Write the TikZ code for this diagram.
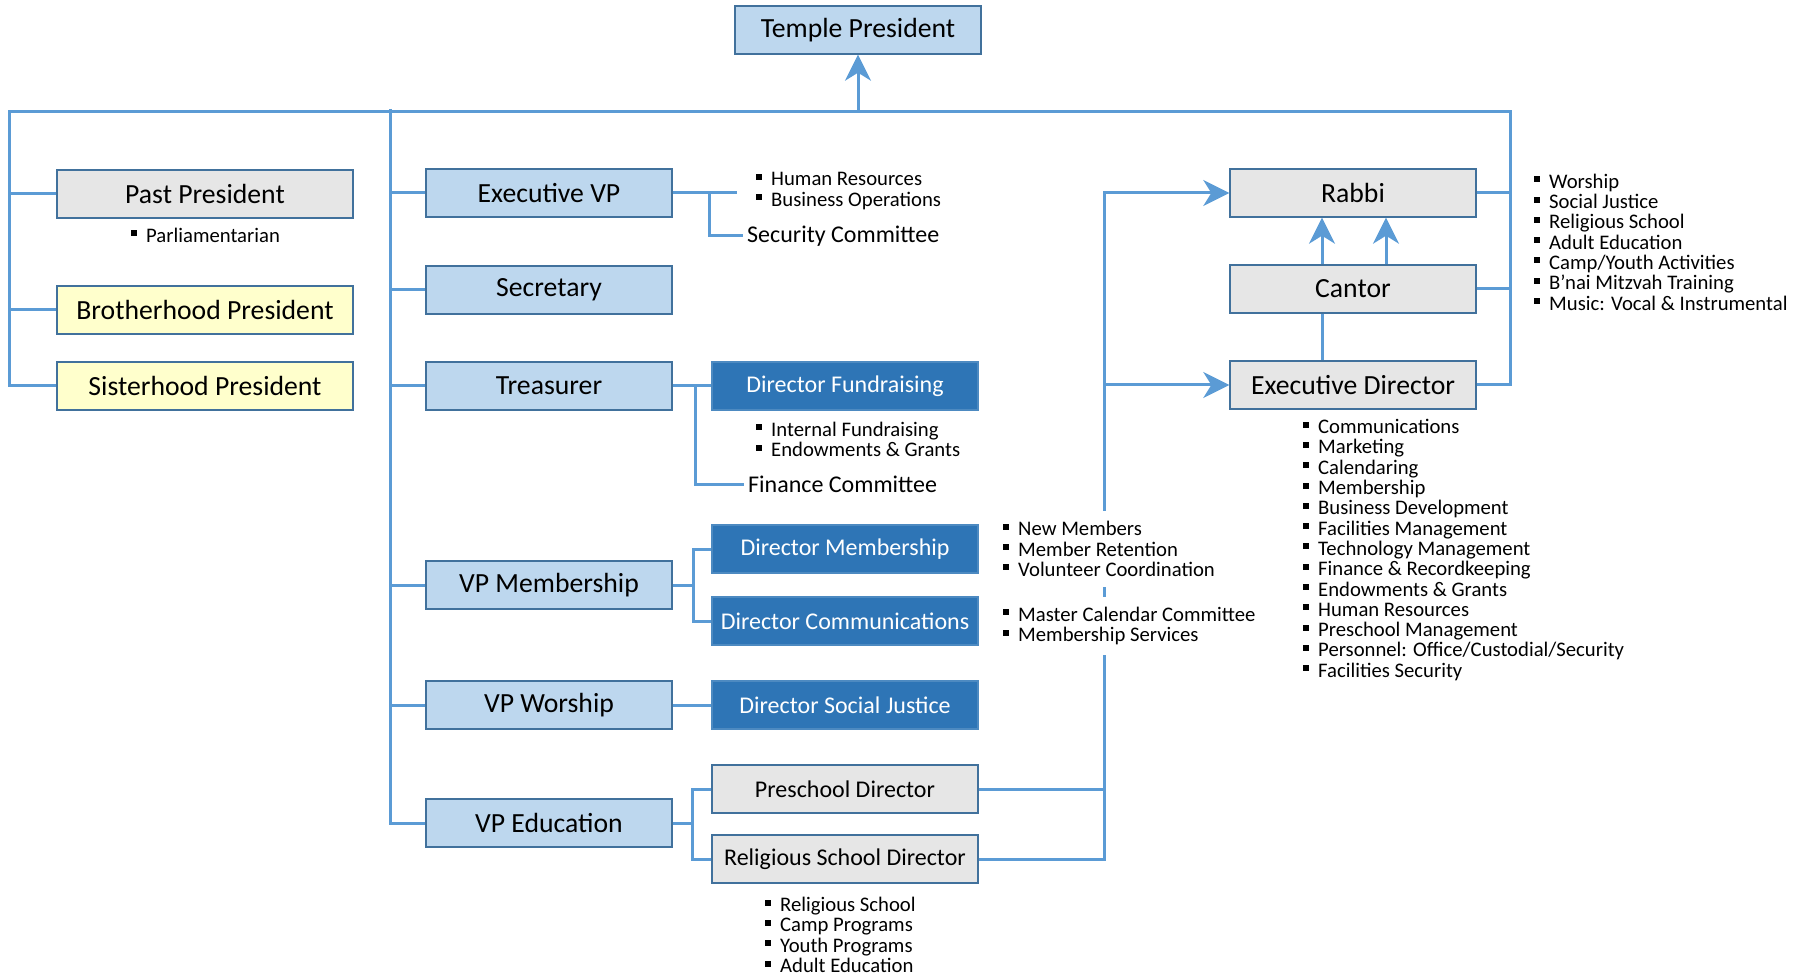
\documentclass[tikz,border=0pt]{standalone}
\usepackage{fontspec}
\setmainfont{Carlito}
\usetikzlibrary{arrows.meta}
\definecolor{lnk}{HTML}{5B9BD5}
\definecolor{edge}{HTML}{41719C}
\definecolor{pale}{HTML}{BDD7EE}
\definecolor{deep}{HTML}{2E75B6}
\definecolor{boxgrey}{HTML}{E6E6E6}
\definecolor{cream}{HTML}{FFFFCC}
\newcommand{\bu}{\rule[6pt]{6pt}{6pt}\hspace{9pt}}
\begin{document}
\begin{tikzpicture}[x=1pt,y=-1pt,
  link/.style={draw=lnk,line width=3pt},
  arr/.style={link,-{Stealth[length=26pt,width=26pt,inset=8pt]}},
  box/.style={draw=edge,line width=1.4pt,minimum width=246pt,minimum height=48pt,
    inner sep=0pt,font=\fontsize{27.7pt}{33pt}\selectfont},
  head/.style={box,fill=pale},
  staffbox/.style={box,fill=boxgrey},
  aux/.style={box,fill=cream,minimum width=296pt},
  dir/.style={box,fill=deep,draw=deep!85!white,text=white,minimum width=266pt,
    font=\fontsize{24pt}{29pt}\selectfont},
  sub/.style={dir,fill=boxgrey,draw=edge,text=black},
  list/.style={inner sep=0pt,align=left,anchor=west,font=\fontsize{20.7pt}{20.3pt}\selectfont},
  note/.style={inner xsep=4pt,inner ysep=0pt,anchor=west,font=\fontsize{24pt}{29pt}\selectfont}]
  \useasboundingbox (0,0) rectangle (1808,976);
  % boxes
  \node[head] (temple) at (858,30) {Temple President};
  \node[staffbox,minimum width=296pt] (past) at (205,194) {Past President};
  \node[aux] (brother) at (205,310) {Brotherhood President};
  \node[aux] (sister) at (205,386) {Sisterhood President};
  \node[head] (execvp) at (549,193) {Executive VP};
  \node[head] (secretary) at (549,290) {Secretary};
  \node[head] (treasurer) at (549,386) {Treasurer};
  \node[head] (vpmember) at (549,585) {VP Membership};
  \node[head] (vpworship) at (549,705) {VP Worship};
  \node[head] (vpedu) at (549,823) {VP Education};
  \node[dir] (dirfund) at (845,386) {Director Fundraising};
  \node[dir] (dirmember) at (845,549) {Director Membership};
  \node[dir] (dircomm) at (845,621) {Director Communications};
  \node[dir] (dirsocial) at (845,705) {Director Social Justice};
  \node[sub] (preschool) at (845,789) {Preschool Director};
  \node[sub] (relschool) at (845,859) {Religious School Director};
  \node[staffbox] (rabbi) at (1353,193) {Rabbi};
  \node[staffbox] (cantor) at (1353,289) {Cantor};
  \node[staffbox] (execdir) at (1353,385) {Executive Director};
  % notes
  \node[list] (parl) at (131,235) {\bu Parliamentarian};
  \node[list] (hrlist) at (756,191) {\bu Human Resources\\ \bu Business Operations};
  \node[note] (security) at (743,236) {Security Committee};
  \node[list] (fundlist) at (756,439.5) {\bu Internal Fundraising\\ \bu Endowments \& Grants};
  \node[note] (finance) at (744,484) {Finance Committee};
  \node[list] (rslist) at (765,935) {\bu Religious School\\ \bu Camp Programs\\
    \bu Youth Programs\\ \bu Adult Education};
  \node[list] (rabbilist) at (1534,242) {\bu Worship\\ \bu Social Justice\\
    \bu Religious School\\ \bu Adult Education\\ \bu Camp/Youth Activities\\
    \bu B’nai Mitzvah Training\\ \bu Music: Vocal \& Instrumental};
  \node[list] (edlist) at (1303,550) {\bu Communications\\ \bu Marketing\\
    \bu Calendaring\\ \bu Membership\\ \bu Business Development\\
    \bu Facilities Management\\ \bu Technology Management\\
    \bu Finance \& Recordkeeping\\ \bu Endowments \& Grants\\
    \bu Human Resources\\ \bu Preschool Management\\
    \bu Personnel: Office/Custodial/Security\\ \bu Facilities Security};
  % board
  \coordinate (busL) at (9,112);
  \coordinate (busR) at (1510,112);
  \coordinate (spine) at (390,109);
  \draw[link] (sister.west) -| (busL) -- (busR) |- (execdir.east);
  \draw[link] (past.west) -- (past.west -| busL);
  \draw[link] (brother.west) -- (brother.west -| busL);
  \draw[arr] (busL -| temple.south) -- (temple.south);
  \draw[link] (spine) |- (vpedu.west);
  \foreach \n in {execvp,secretary,treasurer,vpmember,vpworship}
    \draw[link] (\n.west) -- (\n.west -| spine);
  \draw[link] (rabbi.east) -- (rabbi.east -| busR);
  \draw[link] (cantor.east) -- (cantor.east -| busR);
  % officers
  \coordinate (hrend) at (737,193);
  \coordinate (evpfork) at (709,193);
  \draw[link] (execvp.east) -- (hrend);
  \draw[link] (evpfork) |- (security.west);
  \coordinate (trfork) at (695,386);
  \draw[link] (treasurer.east) -- (dirfund.west);
  \draw[link] (trfork) |- (finance.west);
  \coordinate (vmfork) at (693,585);
  \draw[link] (vpmember.east) -- (vmfork);
  \draw[link] (dirmember.west) -| (vmfork) |- (dircomm.west);
  \draw[link] (vpworship.east) -- (dirsocial.west);
  \coordinate (vefork) at (692,823);
  \draw[link] (vpedu.east) -- (vefork);
  \draw[link] (preschool.west) -| (vefork) |- (relschool.west);
  % staff
  \coordinate (stf) at (1104,193);
  \draw[arr] (relschool.east) -| (stf) -- (rabbi.west);
  \draw[link] (preschool.east) -- (preschool.east -| stf);
  \draw[arr] (execdir.west -| stf) -- (execdir.west);
  \draw[arr] ([xshift=-31pt]cantor.north) -- ([xshift=-31pt]rabbi.south);
  \draw[arr] ([xshift=33pt]cantor.north) -- ([xshift=33pt]rabbi.south);
  \draw[link] ([xshift=-31pt]cantor.south) -- ([xshift=-31pt]execdir.north);
  \node[list,fill=white,inner ysep=10pt] (memlist) at (1003,549)
    {\bu New Members\\ \bu Member Retention\\ \bu Volunteer Coordination};
  \node[list,fill=white,inner ysep=10pt] (callist) at (1003,626)
    {\bu Master Calendar Committee\\ \bu Membership Services};
\end{tikzpicture}
\end{document}
